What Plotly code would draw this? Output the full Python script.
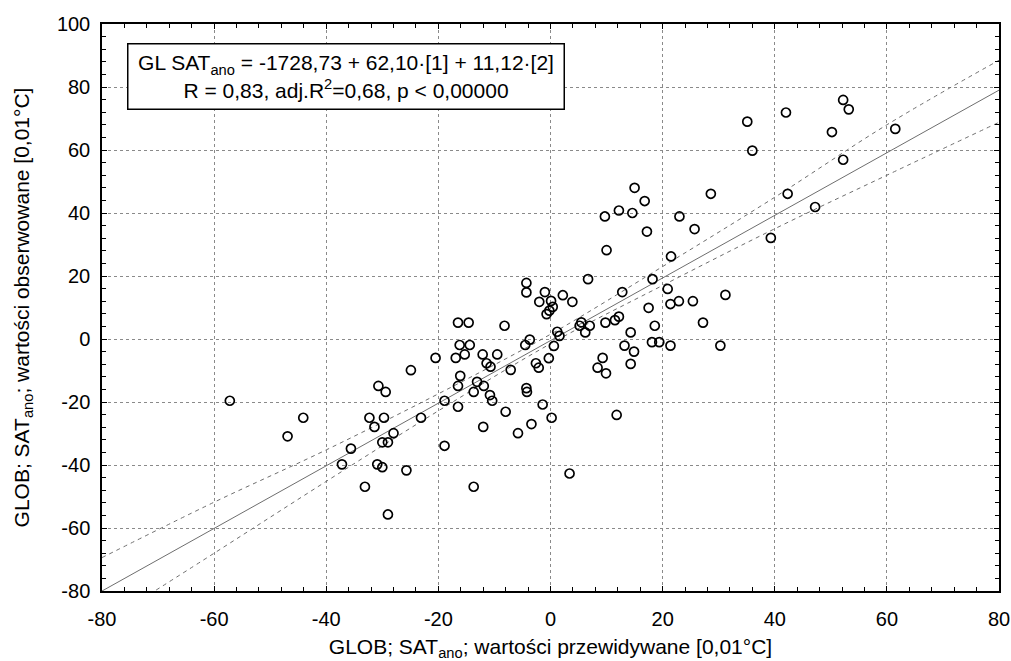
import plotly.graph_objects as go

# Wartości przewidywane (x) i obserwowane (y) [0,01°C]
pred = [52.2, 53.2, 42.0, 35.1, 61.5, 50.2, 36.0, 52.2, 28.6, 42.3,
        15.0, 16.8, 12.2, 14.6, 9.7, 23.0, 47.2, 25.7, 17.2, 39.3,
        10.0, 21.5, 6.7, 18.2, 12.8, 20.9, 31.2, -1.0, 2.2, 3.9,
        0.1, -2.0, 0.4, -0.2, -0.7, 17.5, 21.4, 22.9, 25.4, 5.5,
        5.2, 7.0, 6.2, 9.8, 11.5, 12.2, 14.3, 18.6, 27.2, 1.2,
        1.6, -4.3, -4.3, -8.2, -3.7, -4.5, 0.6, -0.3, 13.2, 14.9,
        14.3, 18.1, 19.4, 21.4, 30.3, 9.3, 8.4, 9.9, -2.6, -2.1,
        -7.1, -1.4, 0.2, 11.8, 3.4, -57.2, -46.9, -44.1, -37.2, -35.6,
        -33.1, -32.3, -31.4, -30.7, -29.4, -29.7, -30.0, -29.0, -28.0, -30.9,
        -30.0, -29.0, -25.7, -24.9, -23.1, -20.5, -18.9, -18.9, -16.5, -14.6,
        -16.2, -14.4, -16.9, -15.3, -16.1, -16.5, -16.5, -13.1, -13.7, -13.7,
        -12.1, -11.4, -10.7, -11.9, -10.8, -10.4, -12.0, -9.5, -8.0, -5.8,
        -4.3, -4.2, -3.4]
obs = [75.9, 72.9, 71.9, 69.0, 66.7, 65.7, 59.8, 56.9, 46.1, 46.1,
       48.0, 43.8, 40.8, 40.0, 38.9, 38.9, 41.9, 34.9, 34.1, 32.1,
       28.2, 26.2, 19.0, 19.0, 14.9, 15.9, 14.0, 14.9, 13.9, 11.8,
       12.1, 11.8, 10.2, 9.0, 7.9, 9.9, 11.1, 12.0, 12.0, 5.3,
       4.2, 4.2, 2.1, 5.2, 6.0, 7.1, 2.1, 4.2, 5.2, 2.3,
       1.0, 17.8, 14.8, 4.2, -0.2, -1.9, -2.2, -6.1, -2.1, -4.0,
       -7.9, -1.0, -1.0, -2.1, -2.1, -6.0, -9.1, -10.9, -7.7, -9.1,
       -9.8, -20.8, -25.0, -24.1, -42.7, -19.6, -30.9, -25.0, -39.8, -34.8,
       -46.9, -25.0, -27.9, -14.9, -16.8, -25.0, -32.8, -32.8, -29.9, -39.8,
       -40.7, -55.7, -41.7, -9.9, -25.0, -6.0, -19.6, -33.9, 5.2, 5.2,
       -1.9, -1.9, -6.0, -4.9, -11.7, -14.9, -21.5, -13.6, -16.8, -46.9,
       -4.9, -7.7, -8.8, -14.9, -17.8, -19.6, -27.9, -4.9, -23.1, -29.9,
       -15.6, -16.8, -27.0]

# Linia regresji i przedziały ufności 95% (odczytane)
fit_x = [-80, 80]
fit_y = [-80, 79]
band_x = [-80, -60, -40, -20, 0, 20, 40, 60, 80]
band_hi = [-69.4, -51.8, -35.2, -17.4, 1.5, 23.0, 45.0, 68.0, 88.5]
band_lo = [-90.6, -68.0, -45.2, -22.8, -1.5, 17.0, 35.0, 52.0, 68.8]

# Etykiety osi (z łącznikiem zamiast znaku minus)
x_ticks = [-80, -60, -40, -20, 0, 20, 40, 60, 80]
y_ticks = [-80, -60, -40, -20, 0, 20, 40, 60, 80, 100]
x_labels = [str(v) for v in x_ticks]
y_labels = [str(v) for v in y_ticks]

font = "Liberation Sans, Arial, sans-serif"
gray = "#6e6e6e"

fig = go.Figure()

fig.add_trace(go.Scatter(x=band_x, y=band_hi, mode="lines",
                         line=dict(color=gray, width=1, dash="4px,4px", shape="spline"),
                         hoverinfo="skip"))
fig.add_trace(go.Scatter(x=band_x, y=band_lo, mode="lines",
                         line=dict(color=gray, width=1, dash="4px,4px", shape="spline"),
                         hoverinfo="skip"))
fig.add_trace(go.Scatter(x=fit_x, y=fit_y, mode="lines",
                         line=dict(color=gray, width=1), hoverinfo="skip"))
fig.add_trace(go.Scatter(x=pred, y=obs, mode="markers",
                         marker=dict(symbol="circle-open", size=9, color="black",
                                     line=dict(color="black", width=1.7))))

axis_common = dict(
    showline=True, linecolor="black", linewidth=1.5, mirror="ticks",
    ticks="inside", ticklen=5, tickcolor="black", tickwidth=1,
    showgrid=True, gridcolor="#8a8a8a", gridwidth=1, griddash="dot",
    zeroline=False, automargin=False,
    tickfont=dict(family=font, size=20, color="black"),
    minor=dict(dtick=4, ticks="inside", ticklen=4, tickcolor="black", showgrid=False),
)

fig.update_layout(
    width=1011, height=661,
    margin=dict(l=102, r=12, t=24, b=70),
    paper_bgcolor="white", plot_bgcolor="white",
    showlegend=False,
    font=dict(family=font, color="black"),
    xaxis=dict(range=[-80, 80], tickmode="array", tickvals=x_ticks, ticktext=x_labels,
               ticklabelstandoff=9,
               title=dict(text="GLOB; SAT<sub>ano</sub>; wartości przewidywane [0,01°C]",
                          font=dict(family=font, size=21), standoff=15),
               **axis_common),
    yaxis=dict(range=[-80, 100], tickmode="array", tickvals=y_ticks, ticktext=y_labels,
               ticklabelstandoff=6,
               title=dict(text="GLOB; SAT<sub>ano</sub>; wartości obserwowane [0,01°C]",
                          font=dict(family=font, size=21), standoff=22),
               **axis_common),
)

fig.add_annotation(
    x=-36.5, y=83.2, xref="x", yref="y",
    text="GL SAT<sub>ano</sub> = -1728,73 + 62,10·[1] + 11,12·[2]<br>"
         "R = 0,83, adj.R<sup>2</sup>=0,68, p < 0,00000",
    showarrow=False, align="center",
    font=dict(family=font, size=21, color="black"),
    bgcolor="white", bordercolor="black", borderwidth=1.5, borderpad=2,
    width=431, height=60,
)

# bez domyślnego marginesu strony, żeby wykres zaczynał się w (0, 0)
fig.write_html("out.html", config={"displayModeBar": False},
               post_script="document.body.style.margin='0';")
